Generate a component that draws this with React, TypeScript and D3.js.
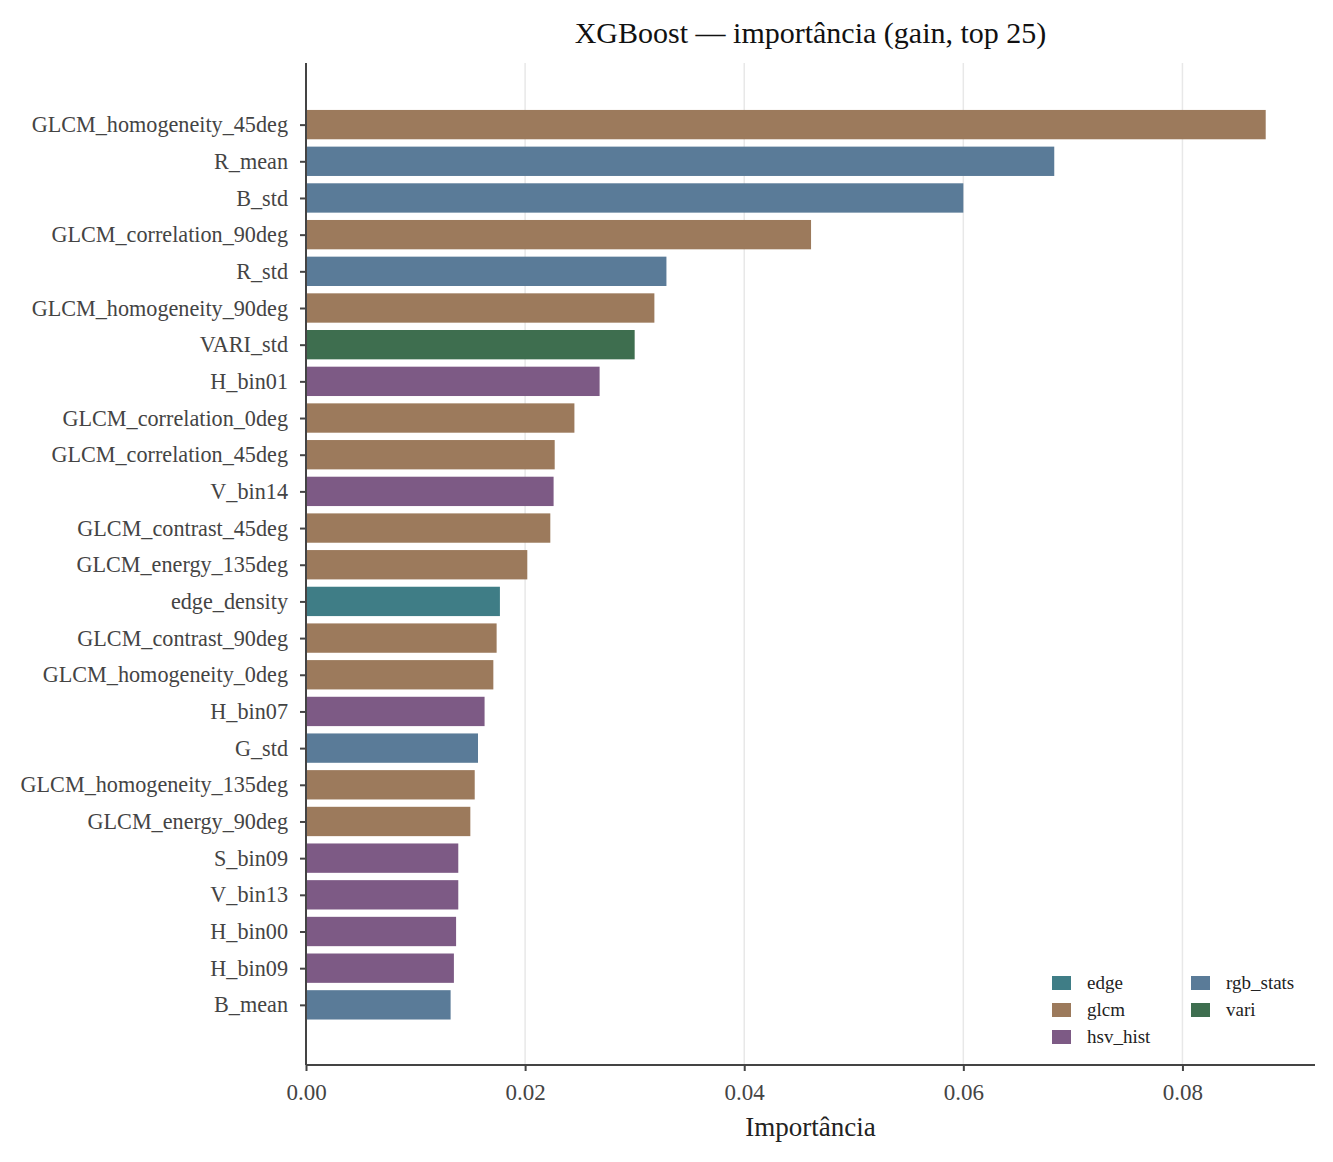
import { useEffect, useRef } from 'react'
import * as d3 from 'd3'

const W = 1333, H = 1162
const M = { top: 63, right: 18, bottom: 97, left: 306 }

const features = [
  'GLCM_homogeneity_45deg', 'R_mean', 'B_std', 'GLCM_correlation_90deg', 'R_std',
  'GLCM_homogeneity_90deg', 'VARI_std', 'H_bin01', 'GLCM_correlation_0deg', 'GLCM_correlation_45deg',
  'V_bin14', 'GLCM_contrast_45deg', 'GLCM_energy_135deg', 'edge_density', 'GLCM_contrast_90deg',
  'GLCM_homogeneity_0deg', 'H_bin07', 'G_std', 'GLCM_homogeneity_135deg', 'GLCM_energy_90deg',
  'S_bin09', 'V_bin13', 'H_bin00', 'H_bin09', 'B_mean',
]
const importance = [
  0.0876, 0.0683, 0.0600, 0.0461, 0.0329,
  0.0318, 0.0300, 0.0268, 0.0245, 0.0227,
  0.0226, 0.0223, 0.0202, 0.0177, 0.0174,
  0.0171, 0.0163, 0.0157, 0.0154, 0.0150,
  0.0139, 0.0139, 0.0137, 0.0135, 0.0132,
]
const groups = [
  'glcm', 'rgb_stats', 'rgb_stats', 'glcm', 'rgb_stats',
  'glcm', 'vari', 'hsv_hist', 'glcm', 'glcm',
  'hsv_hist', 'glcm', 'glcm', 'edge', 'glcm',
  'glcm', 'hsv_hist', 'rgb_stats', 'glcm', 'glcm',
  'hsv_hist', 'hsv_hist', 'hsv_hist', 'hsv_hist', 'rgb_stats',
]
const groupNames = ['edge', 'glcm', 'hsv_hist', 'rgb_stats', 'vari']
const groupColors = ['#3f7d86', '#9c7a5c', '#7d5a85', '#5a7b98', '#3e6e4f']
const xTicks = [0, 0.02, 0.04, 0.06, 0.08]

const FONT = '"Liberation Serif", "Times New Roman", serif'
const INK = '#444'

export default function App() {
  const svgRef = useRef<SVGSVGElement>(null)

  useEffect(() => {
    const svg = d3.select(svgRef.current!)
    svg.selectAll('*').remove()

    const x = d3.scaleLinear().domain([0, 0.0921]).range([M.left, W - M.right])
    const y = d3.scaleLinear().domain([-1.68, features.length - 1 + 1.64]).range([M.top, H - M.bottom])
    const color = d3.scaleOrdinal<string, string>().domain(groupNames).range(groupColors)
    const bh = (y(1) - y(0)) * 0.8

    // Grid
    svg.append('g').selectAll('line').data(xTicks).join('line')
      .attr('x1', d => x(d)).attr('x2', d => x(d))
      .attr('y1', M.top).attr('y2', H - M.bottom)
      .attr('stroke', '#e8e8e8').attr('stroke-width', 1.5)

    // Bars
    svg.append('g').selectAll('rect').data(features).join('rect')
      .attr('x', x(0))
      .attr('y', (_, i) => y(i) - bh / 2)
      .attr('width', (_, i) => x(importance[i]) - x(0))
      .attr('height', bh)
      .attr('fill', (_, i) => color(groups[i]))

    // Y axis
    svg.append('g')
      .attr('transform', `translate(${M.left},0)`)
      .call(d3.axisLeft(y).tickValues(d3.range(features.length)).tickSize(6).tickPadding(12)
        .tickFormat(d => features[+d]))
      .call(g => g.select('.domain').attr('d', `M0,${M.top}V${H - M.bottom}`).attr('stroke', INK).attr('stroke-width', 2))
      .call(g => g.selectAll('.tick line').attr('stroke', INK).attr('stroke-width', 2))
      .call(g => g.selectAll('.tick text').attr('font-size', 22.2).attr('font-family', FONT).attr('fill', INK))

    // X axis
    svg.append('g')
      .attr('transform', `translate(0,${H - M.bottom})`)
      .call(d3.axisBottom(x).tickValues(xTicks).tickSize(6).tickPadding(13).tickFormat(d3.format('.2f')))
      .call(g => g.select('.domain').attr('d', `M${M.left},0H${W - M.right}`).attr('stroke', INK).attr('stroke-width', 2))
      .call(g => g.selectAll('.tick line').attr('stroke', INK).attr('stroke-width', 2))
      .call(g => g.selectAll('.tick text').attr('font-size', 23).attr('font-family', FONT).attr('fill', INK))

    // Title and label
    svg.append('text')
      .attr('x', (M.left + W - M.right) / 2).attr('y', 43)
      .attr('text-anchor', 'middle').attr('font-size', 30).attr('font-family', FONT).attr('fill', '#111')
      .text('XGBoost — importância (gain, top 25)')
    svg.append('text')
      .attr('x', (M.left + W - M.right) / 2).attr('y', 1136)
      .attr('text-anchor', 'middle').attr('font-size', 27).attr('font-family', FONT).attr('fill', '#222')
      .text('Importância')

    // Legend, two columns
    const lg = svg.append('g').attr('transform', 'translate(1052,976)')
    groupNames.forEach((name, i) => {
      const col = Math.floor(i / 3), row = i % 3
      const gx = col * 139, gy = row * 27
      lg.append('rect').attr('x', gx).attr('y', gy).attr('width', 19).attr('height', 14).attr('fill', color(name))
      lg.append('text').attr('x', gx + 35).attr('y', gy + 13)
        .attr('font-size', 19).attr('font-family', FONT).attr('fill', '#222').text(name)
    })
  }, [])

  return (
    <div style={{ position: 'absolute', left: 0, top: 0 }}>
      <svg ref={svgRef} width={W} height={H} style={{ display: 'block', background: '#fff' }} />
    </div>
  )
}
